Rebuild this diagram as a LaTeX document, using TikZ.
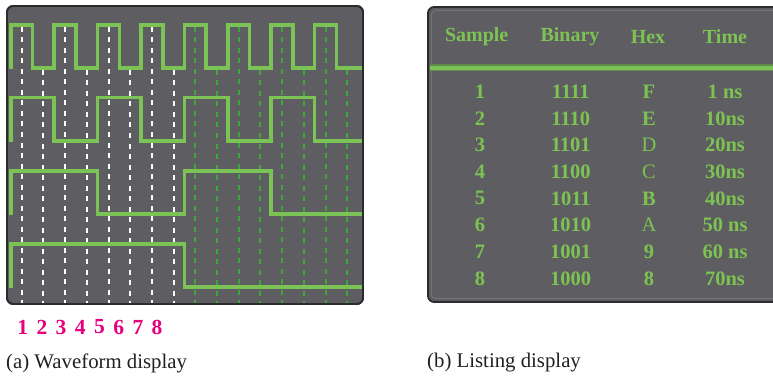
\documentclass[tikz,border=0pt]{standalone}
\usepackage{fontspec}
\setmainfont{Liberation Serif}
\definecolor{panelgray}{HTML}{5E5D62}
\definecolor{borderdark}{HTML}{2C2C2E}
\definecolor{wavegreen}{HTML}{7CC355}
\definecolor{dashgreen}{HTML}{3BAA38}
\definecolor{textgreen}{HTML}{7DC352}
\definecolor{bandgreen}{HTML}{5F8A4C}
\definecolor{magentanum}{HTML}{E6007E}
\definecolor{captiongray}{HTML}{231F20}
\begin{document}
\begin{tikzpicture}[x=1pt,y=-1pt,
  panel/.style={fill=panelgray, draw=borderdark, line width=1.8pt, rounded corners=6pt},
  wave/.style={draw=wavegreen, line width=3.6pt, line join=miter},
  wdash/.style={draw=white, line width=2pt, dash pattern=on 5pt off 5.5pt},
  gdash/.style={draw=dashgreen, line width=2pt, dash pattern=on 5pt off 5.5pt},
  hdr/.style={text=textgreen, inner sep=0pt, font=\fontsize{20}{22}\selectfont\bfseries},
  cellb/.style={text=textgreen, inner sep=0pt, font=\fontsize{20.5}{22}\selectfont\bfseries},
  cellr/.style={text=textgreen, inner sep=0pt, font=\fontsize{20.5}{22}\selectfont},
  samplenum/.style={text=magentanum, inner sep=0pt, font=\fontsize{21.5}{23}\selectfont\bfseries},
  caption/.style={text=captiongray, inner sep=0pt, anchor=west, font=\fontsize{20.8}{22}\selectfont}]
\useasboundingbox (0,0) rectangle (773,377);

% ---------- (a) waveform display ----------
\path[panel] (7,6) rectangle (363,304);
\begin{scope}
\clip[rounded corners=6pt] (7.9,6.9) rectangle (362.1,303.1);
\foreach \k in {1,...,16}{
  \pgfmathsetmacro{\xx}{21.7*\k}
  \pgfmathsetmacro{\yy}{ifthenelse(mod(\k,2)==1,27,70)}
  \ifnum\k<9
    \draw[wdash] (\xx,\yy) -- (\xx,304);
  \else
    \draw[gdash] (\xx,\yy) -- (\xx,304);
  \fi
}
% clock
\draw[wave] (10.85,69)
  \foreach \k in {0,...,7}{
    -- ({10.85+43.4*\k},68) -- ({10.85+43.4*\k},25)
    -- ({32.55+43.4*\k},25) -- ({32.55+43.4*\k},68)
  } -- (364,68);
% wave 2
\draw[wave] (10.85,142)
  \foreach \k in {0,...,3}{
    -- ({10.85+86.8*\k},141) -- ({10.85+86.8*\k},97.7)
    -- ({54.25+86.8*\k},97.7) -- ({54.25+86.8*\k},141)
  } -- (364,141);
% wave 3
\draw[wave] (10.85,214.7) -- (10.85,171) -- (97.65,171) -- (97.65,213.7)
  -- (184.45,213.7) -- (184.45,171) -- (271.25,171) -- (271.25,213.7) -- (364,213.7);
% wave 4
\draw[wave] (10.85,288) -- (10.85,244) -- (184.45,244) -- (184.45,287) -- (364,287);
\end{scope}
\draw[borderdark, line width=1.8pt, rounded corners=6pt] (7,6) rectangle (363,304);

\foreach \i in {1,...,8}{
  \node[samplenum] (n\i) at ({22.7+19.2*(\i-1)},327) {\i};
}
\node[caption] (capa) at (6,363) {(a) Waveform display};

% ---------- (b) listing display ----------
\path[panel] (428,7) rectangle (800,302);
\draw[draw=gray!70!panelgray, line width=0.8pt, rounded corners=4pt] (431.5,10.5) rectangle (800,298.5);

\node[hdr] (hs) at (476.7,37) {Sample};
\node[hdr] (hb) at (570,37) {Binary};
\node[hdr] (hh) at (648,37) {Hex};
\node[hdr] (ht) at (725,37) {Time};

\coordinate (rl) at (430,68);
\coordinate (rr) at (775,68);
\draw[bandgreen, line width=7pt] (rl) -- (rr);
\draw[wavegreen, line width=3.5pt] (rl) -- (rr);

\foreach \i/\b/\h/\hs/\t in {1/1111/F/cellb/1 ns, 2/1110/E/cellb/10ns, 3/1101/D/cellr/20ns, 4/1100/C/cellr/30ns,
                           5/1011/B/cellb/40ns, 6/1010/A/cellr/50 ns, 7/1001/9/cellb/60 ns, 8/1000/8/cellb/70ns}{
  \pgfmathsetmacro{\yy}{91.7+26.67*(\i-1)}
  \node[cellb] (s\i) at (480,\yy) {\i};
  \node[cellb] (b\i) at (570.7,\yy) {\b};
  \node[\hs] (x\i) at (649,\yy) {\h};
  \node[cellb] (t\i) at (725,\yy) {\t};
}

\node[caption] (capb) at (427,363) {(b) Listing display};
\end{tikzpicture}
\end{document}
